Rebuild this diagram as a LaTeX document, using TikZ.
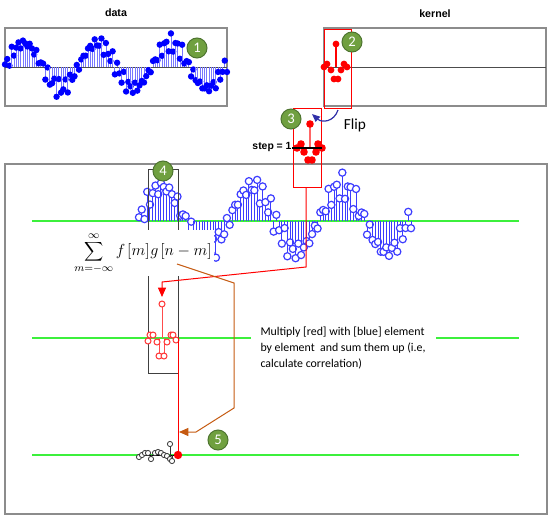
\documentclass[tikz,border=0pt]{standalone}
\usepackage{fontspec}
\setmainfont{Carlito}
\newfontfamily\arialfont{Liberation Sans}
\usetikzlibrary{arrows.meta}

\definecolor{dotblue}{HTML}{0000FF}
\definecolor{stemblue}{HTML}{7878FF}
\definecolor{ringblue}{HTML}{3C3CFF}
\definecolor{axisgreen}{HTML}{3CF03C}
\definecolor{framegray}{HTML}{8C8C8C}
\definecolor{badgefill}{HTML}{70A040}
\definecolor{badgeedge}{HTML}{4E7530}
\definecolor{flipblue}{HTML}{3030A8}
\definecolor{sumorange}{HTML}{C55A11}

\tikzset{every picture/.style={line width=0.75pt}}
\tikzset{
  framebox/.style={draw=framegray, line width=1.2pt},
  axisline/.style={draw=axisgreen, line width=1pt},
  badge/.style={circle, fill=badgefill, draw=badgeedge, line width=0.75pt, text=white,
    minimum size=15pt, inner sep=0pt, font=\fontsize{11}{12}\selectfont},
  title/.style={inner sep=0.75pt, font=\arialfont\bfseries\fontsize{8}{9}\selectfont},
}

\begin{document}
\begin{tikzpicture}[x=0.75pt,y=0.75pt,yscale=-1,xscale=1]
\useasboundingbox (0,0) rectangle (550,518);

%Shape: Rectangle [data]
\draw [framebox] (5,28) rectangle (227,106);
\draw [black!70] (5,67) -- (227,67);
%Shape: Rectangle [kernel]
\draw [framebox] (324,28) rectangle (546,106);
\draw [black!70] (324,67) -- (546,67);
%Shape: Rectangle [main]
\draw [framebox, line width=1.5pt] (5,164) rectangle (547,514);

%Straight Lines [axes]
\draw [axisline] (32,221) -- (519,221);
\draw [axisline] (32,338) -- (519,338);
\draw [axisline] (32,455) -- (519,455);

%data signal, filled dots
\foreach \i in {0,...,99}{
  \pgfmathsetmacro{\tpos}{\i/99}
  \pgfmathsetmacro{\val}{0.05+0.9*cos(360*(\tpos-0.085)/0.33)+0.25*sin(\i*137.5)+0.15*sin(\i*151.3+40)}
  \pgfmathsetmacro{\xa}{5+222*\tpos}
  \pgfmathsetmacro{\ya}{67-25*\val}
  \draw [stemblue, line width=0.6pt] (\xa,67) -- (\xa,\ya);
  \fill [dotblue] (\xa,\ya) circle (3.2);
}

%same signal, hollow rings in the main box
\foreach \i in {0,...,99}{
  \pgfmathsetmacro{\tpos}{\i/99}
  \pgfmathsetmacro{\val}{0.05+0.9*cos(360*(\tpos-0.085)/0.33)+0.25*sin(\i*137.5)+0.15*sin(\i*151.3+40)}
  \pgfmathsetmacro{\xb}{139+272*\tpos}
  \pgfmathsetmacro{\yb}{221-36*\val}
  \draw [ringblue, line width=0.75pt] (\xb,221) -- (\xb,\yb);
  \draw [ringblue, fill=white, line width=0.9pt] (\xb,\yb) circle (3.6);
}

%kernel [2]
\draw [red, line width=1pt] (336,67) -- (336,44);
\foreach \kx/\ky in {324/67,327/64,331/70,334/79,336/44,338/79,341/70,344/64,347/67}
  \fill [red] (\kx,\ky) circle (3.4);
\draw [red] (324,29) rectangle (351,108);

%flipped kernel [3]
\draw [red] (293,108) rectangle (321,187);
\draw [red!60, line width=1pt] (310,148) -- (310,124);
\foreach \kx/\ky in {297/148,301/144,304/152,308/160,310/124,312/160,316/152,318/144,322/148}
  \fill [red] (\kx,\ky) circle (3.8);
\draw [black, line width=1pt] (292,148) -- (322,148);
% Text Node
\node [title, anchor=east, font=\arialfont\bfseries\fontsize{7.8}{9}\selectfont] (stepnote) at (293,147) {step = 1};

%Curve Lines [flip]
\coordinate (flipstart) at (338,110);
\coordinate (flipend) at (312,114);
\draw [flipblue, line width=0.9pt, -{Triangle[length=6pt,width=5pt]}] (flipstart) .. controls (334,122) and (322,123) .. (flipend);
% Text Node
\node [inner sep=0.75pt, font=\fontsize{11.5}{13}\selectfont] (fliptext) at (355,125) {Flip};

%sliding window [4]
\draw [black!75] (148,169) rectangle (178,373);
\draw [red!70, line width=0.75pt] (162,338) -- (162,304);
\draw [red!70, line width=0.75pt] (159,338) -- (159,356) (164,338) -- (164,356);
\foreach \kx/\ky in {148/341,150/335,153/335,157/342,159/356,162/304,164/356,167/342,171/335,173/335,176/340}
  \draw [red!80, fill=white] (\kx,\ky) circle (3);

% Text Node [formula]
\node [fill=white, inner sep=1.5pt, font=\fontsize{12}{14}\selectfont] (formula) at (143,253)
  {$\displaystyle\sum_{m=-\infty}^{\infty} f\mkern2mu[m]\mkern1mu g\mkern2mu[n-m]$};

%result [5]
\draw [black] (139,455) -- (178,455);
\foreach \kx/\ky in {139/457,142/455,145/453,148/453,151/459,155/453,158/452,161/453,164/455,167/456,170/459,172/461,170/444}{
  \draw [black!80, line width=0.6pt] (\kx,455) -- (\kx,\ky);
  \draw [black!80, fill=white, line width=0.6pt] (\kx,\ky) circle (2.6);
}
\fill [red] (178,455) circle (4.2);

%Straight Lines [red path]
\coordinate (winbot) at (306,187);
\coordinate (winmid) at (306,267);
\coordinate (kernbend) at (162,282);
\coordinate (kerntop) at (162,297);
\draw [red, -{Triangle[length=7pt,width=6pt]}] (winbot) -- (winmid) -- (kernbend) -- (kerntop);
\coordinate (sumtop) at (178,338);
\coordinate (sumbot) at (178,455);
\draw [red] (sumtop) -- (sumbot);

%Straight Lines [orange path]
\coordinate (formout) at (177,264);
\coordinate (oa) at (234,283);
\coordinate (ob) at (234,408);
\coordinate (oc) at (196,432);
\coordinate (resin) at (179,432);
\draw [sumorange, -{Triangle[length=7pt,width=6pt]}] (formout) -- (oa) -- (ob) -- (oc) -- (resin);

% Text Node
\node [anchor=west, fill=white, inner xsep=7.5pt, inner ysep=2pt, align=left, font=\fontsize{8.9}{12}\selectfont] (note) at (250,348)
  {Multiply [red] with [blue] element\\by element~ and sum them up (i.e,\\calculate correlation)};

% Text Node [titles]
\node [title] (datatitle) at (116,13) {data};
\node [title] (kerneltitle) at (435,14) {kernel};

% badges
\node [badge] (b1) at (197,48) {1};
\node [badge] (b2) at (352,42) {2};
\node [badge] (b3) at (291,119) {3};
\node [badge] (b4) at (163,171) {4};
\node [badge] (b5) at (218,440) {5};

\end{tikzpicture}
\end{document}
